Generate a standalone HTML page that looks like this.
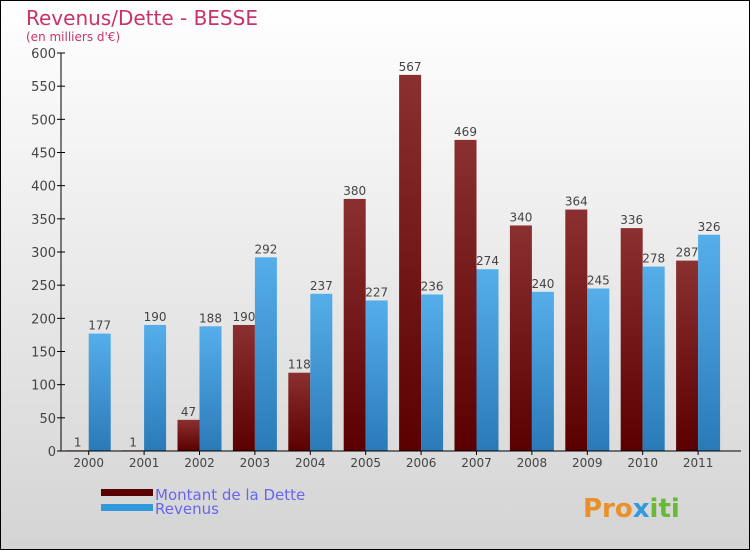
<!DOCTYPE html>
<html><head><meta charset="utf-8"><style>
body{margin:0}
#c{position:relative;width:748px;height:548px;border:1px solid #000;background:linear-gradient(#fff,#f2f2f2 30%,#d4d4d4);font-family:"DejaVu Sans","Liberation Sans",sans-serif;overflow:hidden}
text{font-family:"DejaVu Sans","Liberation Sans",sans-serif}
</style></head><body>
<div id="c">
<svg id="s" width="748" height="548">
<defs>
<linearGradient id="gd" x1="0" y1="0" x2="0" y2="1"><stop offset="0" stop-color="#8b3030"/><stop offset="1" stop-color="#5a0000"/></linearGradient>
<linearGradient id="gr" x1="0" y1="0" x2="0" y2="1"><stop offset="0" stop-color="#55aeea"/><stop offset="1" stop-color="#2a7ab8"/></linearGradient>
</defs>
<text x="25" y="24" font-size="20" fill="#c8336a">Revenus/Dette - BESSE</text>
<text x="25" y="40" font-size="12" fill="#c8336a">(en milliers d'€)</text>
<g id="g"></g>
<rect x="100" y="488" width="52" height="7" fill="#5a0000"/>
<rect x="100" y="503" width="52" height="7" fill="#3399dd"/>
<text x="154" y="499" font-size="15" fill="#6666ee">Montant de la Dette</text>
<text x="154" y="513" font-size="15" fill="#6666ee">Revenus</text>
<text x="582" y="516" font-size="26" font-weight="bold" fill="#e8902a">Pro<tspan fill="#3399dd">x</tspan><tspan fill="#66bb33">iti</tspan></text>
</svg>
</div>
<script>
const years=["2000","2001","2002","2003","2004","2005","2006","2007","2008","2009","2010","2011"];
const dette=[1,1,47,190,118,380,567,469,340,364,336,287];
const revenus=[177,190,188,292,237,227,236,274,240,245,278,326];
const ticks=[0,50,100,150,200,250,300,350,400,450,500,550,600];
const NS="http://www.w3.org/2000/svg";
const g=document.getElementById('g');
const x0=60,y0=450,yTop=52,step=55.4,bw=22;
const y=v=>y0-(v/600)*(y0-yTop);
const xc=i=>x0+step*(i+0.5);
function mk(t,a){const e=document.createElementNS(NS,t);for(const k in a)e.setAttribute(k,a[k]);g.appendChild(e);return e;}
ticks.forEach(t=>{
 const l=mk('line',{x1:x0-4,x2:x0+4,y1:y(t),y2:y(t),stroke:'#000'});
 
 
 const tx=mk('text',{x:x0-5,y:y(t)+5,'font-size':13,'text-anchor':'end',fill:'#444'});
 tx.textContent=t;
 
 
});
years.forEach((yr,i)=>{
 const c=xc(i);
 const b1=mk('rect',{x:c-bw,y:y(dette[i]),width:bw,height:y0-y(dette[i]),fill:'url(#gd)'});
 
 
 const b2=mk('rect',{x:c,y:y(revenus[i]),width:bw,height:y0-y(revenus[i]),fill:'url(#gr)'});
 
 
 const l1=mk('text',{x:c-bw/2,y:y(dette[i])-4,'font-size':12,'text-anchor':'middle',fill:'#444'});
 l1.textContent=dette[i];
 
 
 const l2=mk('text',{x:c+bw/2,y:y(revenus[i])-4,'font-size':12,'text-anchor':'middle',fill:'#444'});
 l2.textContent=revenus[i];
 
 
 const tk=mk('line',{x1:c,x2:c,y1:y0,y2:y0+4,stroke:'#000'});
 
 
 const xl=mk('text',{x:c,y:y0+16,'font-size':12,'text-anchor':'middle',fill:'#444'});
 xl.textContent=yr;
 
 
});
const ya=mk('line',{x1:x0,x2:x0,y1:yTop,y2:y0,stroke:'#000'});


const xa=mk('line',{x1:x0,x2:740,y1:y0,y2:y0,stroke:'#000'});


</script>
</body></html>
